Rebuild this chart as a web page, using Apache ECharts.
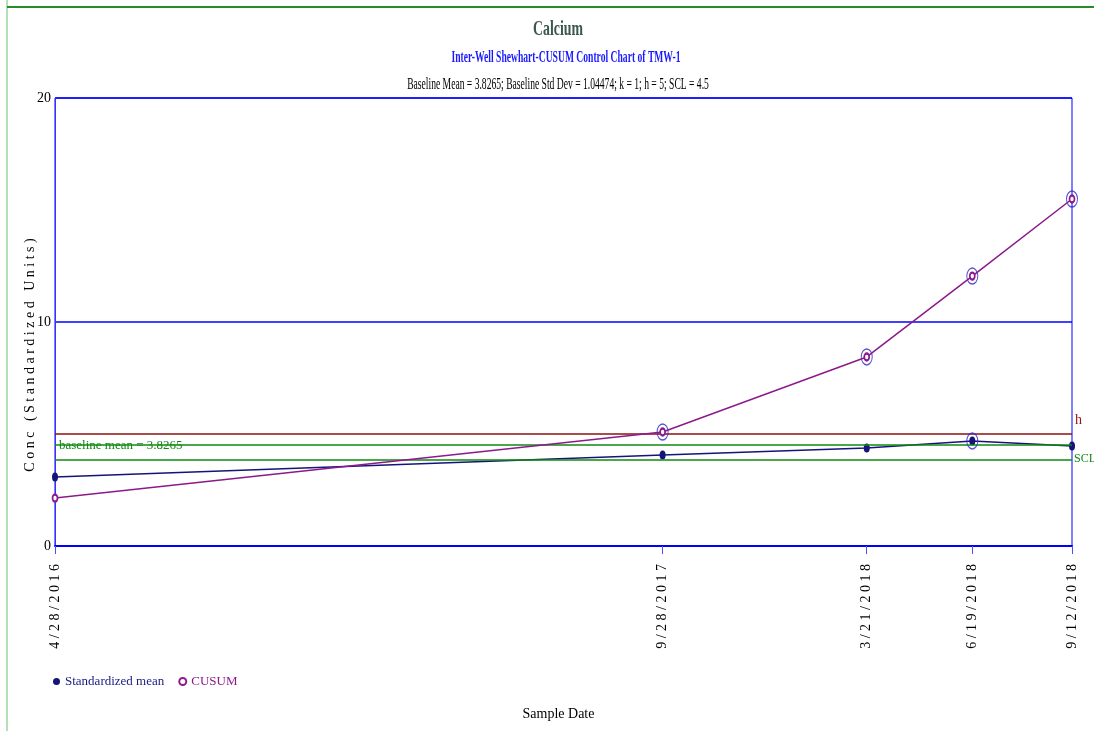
<!DOCTYPE html>
<html>
<head>
<meta charset="utf-8">
<script src="https://cdn.jsdelivr.net/npm/echarts@6/dist/echarts.min.js"></script>
<style>
  html, body { margin: 0; padding: 0; background: #fff; }
  #chartmain { width: 1094px; height: 731px; }
</style>
</head>
<body>
<div id="chartmain"></div>
<script>
// sample dates (M/D/YYYY)
var dates = ['4/28/2016', '9/28/2017', '3/21/2018', '6/19/2018', '9/12/2018'];
// standardized mean per sample
var stdMean = [3.08, 4.06, 4.37, 4.69, 4.46];
// CUSUM per sample
var cusum = [2.14, 5.09, 8.44, 12.05, 15.49];
// control parameters
var baselineMean = 3.8265;
var hLimit = 5;
var scl = 4.5;
var yTicks = [0, 10, 20];

var serif = 'Liberation Serif';
var DAY = 86400000;

// days since epoch, so the axis keeps the real date spacing
function toDay(s) {
    var p = s.split('/');
    return Math.round(Date.UTC(+p[2], +p[0] - 1, +p[1]) / DAY);
}
function spaced(s) {
    return s.split('').join(' ');
}

window.onload = function () {
    var days = dates.map(toDay);
    var labelOf = {};
    days.forEach(function (d, i) { labelOf[d] = spaced(dates[i]); });

    var meanData = days.map(function (d, i) { return [d, stdMean[i]]; });
    var cusumData = days.map(function (d, i) { return [d, cusum[i]]; });
    // points out of control get a blue ring
    var rings = [];
    days.forEach(function (d, i) {
        if (stdMean[i] > scl) rings.push([d, stdMean[i]]);
        if (cusum[i] > hLimit) rings.push([d, cusum[i]]);
    });

    var option = {
        animation: false,
        backgroundColor: '#fff',
        graphic: [
            { type: 'line', shape: { x1: 7, y1: 0, x2: 7, y2: 731 }, style: { stroke: '#6cc06c', lineWidth: 1 } },
            { type: 'line', shape: { x1: 7, y1: 7, x2: 1094, y2: 7 }, style: { stroke: '#2a8a2a', lineWidth: 2 } },
            { type: 'text', x: 558, y: 19, scaleX: 0.66,
              style: { text: 'Calcium', textAlign: 'center', fill: '#3b5850', font: 'bold 21px "Liberation Serif"' } },
            { type: 'text', x: 566, y: 50, scaleX: 0.6,
              style: { text: 'Inter-Well Shewhart-CUSUM Control Chart of TMW-1', textAlign: 'center', fill: '#1a1aff', font: 'bold 16px "Liberation Serif"' } },
            { type: 'text', x: 558, y: 77, scaleX: 0.6,
              style: { text: 'Baseline Mean = ' + baselineMean + '; Baseline Std Dev = 1.04474; k = 1; h = ' + hLimit + '; SCL = ' + scl,
                       textAlign: 'center', fill: '#000', font: '16px "Liberation Serif"' } }
        ],
        grid: {
            left: 55, right: 22, top: 98, bottom: 185,
            show: true, borderColor: '#0000ff', borderWidth: 1
        },
        legend: {
            left: 48, top: 670,
            itemWidth: 7, itemHeight: 7, itemGap: 14,
            data: [
                { name: 'Standardized mean', icon: 'circle', textStyle: { color: '#1a1a80' } },
                { name: 'CUSUM', icon: 'emptyCircle', textStyle: { color: '#8b1a8b' } }
            ],
            textStyle: { fontFamily: serif, fontSize: 13 }
        },
        xAxis: {
            type: 'value',
            min: days[0],
            max: days[days.length - 1],
            name: 'Sample Date',
            nameLocation: 'middle',
            nameGap: 161,
            nameTextStyle: { fontFamily: serif, fontSize: 14, color: '#000', padding: [0, 10, 0, 0] },
            axisLine: { onZero: false, lineStyle: { color: '#0000ff', width: 2 } },
            axisTick: { show: true, customValues: days, length: 8, lineStyle: { color: '#4d4dff' } },
            axisLabel: {
                customValues: days,
                rotate: 90,
                margin: 18,
                fontFamily: serif, fontSize: 14, color: '#000',
                formatter: function (v) { return labelOf[v] || ''; }
            },
            splitLine: { show: false }
        },
        yAxis: {
            type: 'value',
            min: yTicks[0], max: yTicks[yTicks.length - 1], interval: 10,
            name: spaced('Conc (Standardized Units)'),
            nameLocation: 'middle',
            nameGap: 18,
            nameMoveOverlap: false,
            nameTextStyle: { fontFamily: serif, fontSize: 14, color: '#000', padding: [0, 66, 0, 0] },
            axisLine: { show: true, lineStyle: { color: '#3333ff', width: 1 } },
            axisTick: { show: false },
            axisLabel: { fontFamily: serif, fontSize: 14, color: '#000', margin: 4 },
            splitLine: { lineStyle: { color: '#0000ff', width: 1.5 } }
        },
        series: [
            {
                name: 'Standardized mean',
                type: 'line',
                data: meanData,
                symbol: 'circle',
                symbolSize: [6, 9],
                itemStyle: { color: '#14147a' },
                lineStyle: { color: '#14147a', width: 1.5 },
                z: 4,
                markLine: {
                    symbol: 'none',
                    silent: true,
                    data: [
                        { yAxis: hLimit, lineStyle: { color: '#8b1010', width: 1.5, type: 'solid' },
                          label: { show: true, position: 'end', formatter: 'h\n ', color: '#a01010',
                                   fontFamily: serif, fontSize: 14, lineHeight: 28, distance: 3 } },
                        { yAxis: scl, lineStyle: { color: '#108a10', width: 1.5, type: 'solid' },
                          label: { show: true, position: 'end', formatter: ' \nSCL', color: '#108a10',
                                   fontFamily: serif, fontSize: 12, lineHeight: 28, distance: 2 } },
                        { yAxis: baselineMean, lineStyle: { color: '#108a10', width: 1.5, type: 'solid' },
                          label: { show: true, position: 'insideStartTop', formatter: 'baseline mean = ' + baselineMean,
                                   color: '#108a10', fontFamily: serif, fontSize: 13, distance: 8, padding: [0, 0, 0, -4] } }
                    ]
                }
            },
            {
                name: 'ring',
                type: 'scatter',
                data: rings,
                symbol: 'circle',
                symbolSize: [11, 16],
                itemStyle: { color: 'rgba(0,0,0,0)', borderColor: '#2a2acc', borderWidth: 1.2 },
                z: 5,
                silent: true
            },
            {
                name: 'CUSUM',
                type: 'line',
                data: cusumData,
                symbol: 'emptyCircle',
                symbolSize: [5, 7],
                itemStyle: { color: '#8b1a8b', borderWidth: 1 },
                lineStyle: { color: '#8b1a8b', width: 1.5 },
                z: 6
            }
        ]
    };

    var myChart = echarts.init(document.getElementById('chartmain'));
    myChart.setOption(option);
};
</script>
</body>
</html>
